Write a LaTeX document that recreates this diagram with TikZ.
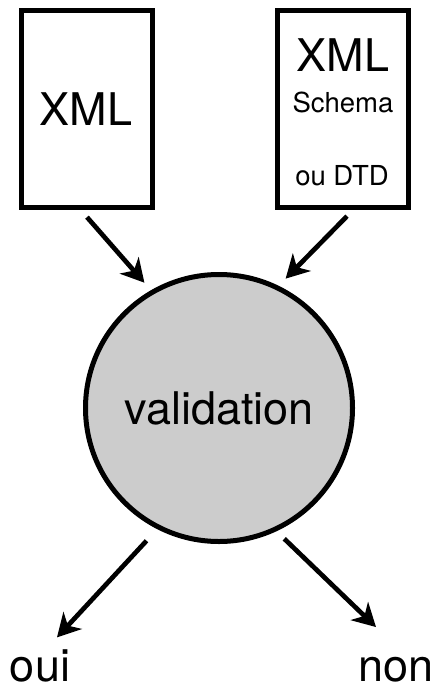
\documentclass[tikz,border=0pt]{standalone}
\usepackage{fontspec}
\setmainfont{TeX Gyre Heros}
\usetikzlibrary{arrows.meta}
\begin{document}
\begin{tikzpicture}[x=1pt,y=-1pt,
  box/.style={draw, line width=5pt, minimum width=130.6pt, minimum height=197.3pt, inner sep=0pt},
  big/.style={font=\fontsize{45}{50}\selectfont, inner sep=0pt, anchor=base},
  small/.style={font=\fontsize{27.5}{30}\selectfont, inner sep=0pt, anchor=base},
  arr/.style={line width=4.7pt, -{Stealth[length=23pt,width=25pt,inset=7pt]}}]
\useasboundingbox (0,0) rectangle (438,687);
% boxes
\node[box] (xmlbox) at (87,109) {};
\node[box] (xsdbox) at (343,109) {};
% box texts
\node[big] (xmltxt) at (86,126) {XML};
\node[big] (xsdA) at (343,72) {XML};
\node[small] (xsdB) at (343,113) {Schema};
\node[small] (xsdC) at (342,185) {ou DTD};
% validation circle
\node[circle, draw, line width=5pt, fill={rgb,255:red,204;green,204;blue,204},
      minimum size=267pt, inner sep=0pt, font=\fontsize{45}{50}\selectfont] (valid) at (219,408) {validation};
% outcomes
\node[big] (oui) at (40,681) {oui};
\node[big] (non) at (396,681) {non};
% arrows
\draw[arr, shorten >=10pt] ([yshift=-7pt]xmlbox.south) -- (valid.120.6);
\draw[arr, shorten >=10pt] ([xshift=4pt,yshift=-6pt]xsdbox.south) -- (valid.64.4);
\draw[arr, shorten <=15.8pt] (valid.243.3) -- ([shift={(17pt,11.6pt)}]oui.north);
\draw[arr, shorten <=10.8pt] (valid.295.9) -- ([shift={(-20pt,29.5pt)}]non.north);
\end{tikzpicture}
\end{document}
